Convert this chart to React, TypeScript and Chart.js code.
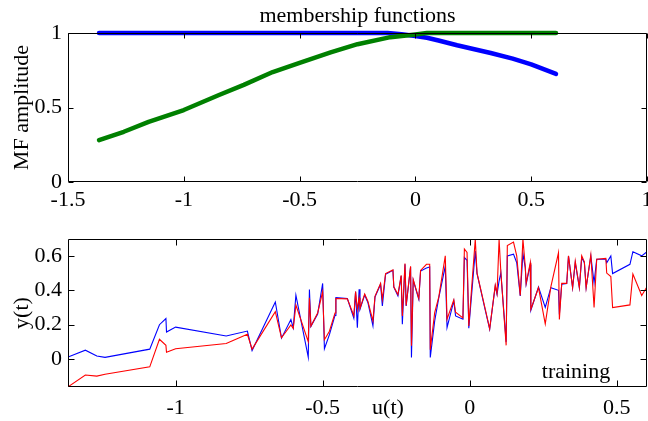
import React, { useEffect, useRef } from "react";
import { Chart, registerables } from "chart.js";
Chart.register(...registerables);

// ---- Top panel: membership functions ----
const mfTitle = "membership functions";
const mfYLabel = "MF amplitude";
const mf1U = [-1.366, -0.12, -0.06, 0, 0.05, 0.1, 0.18, 0.25, 0.325, 0.42, 0.5, 0.607];
const mf1Y = [1, 1, 0.992, 0.98, 0.968, 0.95, 0.918, 0.893, 0.866, 0.828, 0.79, 0.726];
const mf2U = [-1.366, -1.259, -1.152, -1.0, -0.848, -0.741, -0.616, -0.5, -0.366, -0.25, -0.108, 0, 0.05, 0.607];
const mf2Y = [0.281, 0.337, 0.404, 0.483, 0.584, 0.652, 0.738, 0.8, 0.87, 0.925, 0.972, 0.99, 1.0, 1.0];
const mfXTicks = [-1.5, -1, -0.5, 0, 0.5, 1];
const mfYTicks = [0, 0.5, 1];

// ---- Bottom panel: training ----
const trXLabel = "u(t)";
const trYLabel = "y(t)";
const trNote = "training";
const trU = [
  -1.366, -1.307, -1.268, -1.24, -1.088, -1.055, -1.033, -1.031, -1.0, -0.828,
  -0.756, -0.74, -0.661, -0.64, -0.608, -0.6, -0.591, -0.549, -0.545, -0.54,
  -0.517, -0.5, -0.494, -0.477, -0.458, -0.455, -0.416, -0.394, -0.388, -0.382,
  -0.376, -0.373, -0.357, -0.346, -0.329, -0.322, -0.303, -0.297, -0.286, -0.261,
  -0.258, -0.244, -0.233, -0.229, -0.22, -0.216, -0.201, -0.198, -0.192, -0.173,
  -0.167, -0.147, -0.136, -0.134, -0.119, -0.105, -0.083, -0.077, -0.054, -0.048,
  -0.023, -0.018, -0.009, -0.003, 0.019, 0.025, 0.053, 0.068, 0.087, 0.093,
  0.1, 0.106, 0.124, 0.128, 0.149, 0.16, 0.172, 0.181, 0.189, 0.192,
  0.206, 0.208, 0.234, 0.257, 0.276, 0.302, 0.305, 0.313, 0.33, 0.336,
  0.35, 0.359, 0.373, 0.381, 0.39, 0.396, 0.412, 0.423, 0.432, 0.463,
  0.466, 0.48, 0.486, 0.545, 0.555, 0.585, 0.603,
];
const trBlue = [
  0.012, 0.052, 0.018, 0.01, 0.058, 0.2, 0.236, 0.157, 0.186, 0.134,
  0.163, 0.05, 0.332, 0.122, 0.23, 0.182, 0.372, 0.012, 0.405, 0.19,
  0.262, 0.44, 0.06, 0.142, 0.254, 0.357, 0.352, 0.238, 0.392, 0.183,
  0.406, 0.29, 0.373, 0.328, 0.193, 0.361, 0.435, 0.309, 0.493, 0.516,
  0.419, 0.367, 0.483, 0.203, 0.551, 0.309, 0.535, 0.01, 0.458, 0.348,
  0.512, 0.53, 0.535, 0.01, 0.222, 0.357, 0.541, 0.183, 0.338, 0.251,
  0.232, 0.59, 0.574, 0.18, 0.628, 0.497, 0.284, 0.174, 0.425, 0.377,
  0.454, 0.502, 0.1, 0.6, 0.61, 0.56, 0.367, 0.613, 0.532, 0.435,
  0.55, 0.284, 0.419, 0.3, 0.415, 0.4, 0.26, 0.435, 0.439, 0.599,
  0.415, 0.56, 0.415, 0.59, 0.56, 0.415, 0.599, 0.444, 0.58, 0.58,
  0.56, 0.599, 0.497, 0.551, 0.624, 0.6, 0.624,
];
const trRed = [
  -0.161, -0.092, -0.099, -0.088, -0.045, 0.115, 0.08, 0.04, 0.06, 0.091,
  0.144, 0.058, 0.276, 0.124, 0.198, 0.178, 0.314, 0.102, 0.356, 0.192,
  0.268, 0.392, 0.113, 0.162, 0.268, 0.352, 0.35, 0.252, 0.392, 0.29,
  0.357, 0.295, 0.378, 0.335, 0.222, 0.365, 0.44, 0.348, 0.497, 0.518,
  0.42, 0.375, 0.487, 0.251, 0.556, 0.312, 0.54, 0.078, 0.462, 0.352,
  0.515, 0.551, 0.551, 0.055, 0.27, 0.362, 0.6, 0.232, 0.345, 0.272,
  0.24, 0.64, 0.62, 0.193, 0.697, 0.5, 0.29, 0.176, 0.43, 0.38,
  0.697, 0.505, 0.08, 0.66, 0.68, 0.6, 0.37, 0.697, 0.54, 0.44,
  0.56, 0.29, 0.415, 0.205, 0.42, 0.618, 0.23, 0.44, 0.44, 0.6,
  0.415, 0.57, 0.415, 0.6, 0.565, 0.415, 0.605, 0.3, 0.58, 0.585,
  0.5, 0.48, 0.3, 0.315, 0.495, 0.37, 0.421,
];
const trXTicks = [-1, -0.5, 0, 0.5];
const trYTicks = [0, 0.2, 0.4, 0.6];

const FAMILY = '"Liberation Serif", "Times New Roman", serif';
const FONT = { family: FAMILY, size: 22 };

const framePlugin = {
  id: "frame",
  afterDatasetsDraw(chart: any, _args: any, opts: any) {
    const { ctx, chartArea: a, scales } = chart;
    const len = opts.tick || 5;
    const l = Math.round(a.left) + 0.5;
    const r = Math.round(a.right) - 0.5;
    const t = Math.round(a.top) + 0.5;
    const b = Math.round(a.bottom) - 0.5;
    ctx.save();
    ctx.strokeStyle = "#000";
    ctx.lineWidth = 1;
    ctx.beginPath();
    ctx.rect(l, t, r - l, b - t);
    for (const tk of scales.x.ticks) {
      const px = Math.round(scales.x.getPixelForValue(tk.value)) + 0.5;
      ctx.moveTo(px, b); ctx.lineTo(px, b - len);
      ctx.moveTo(px, t); ctx.lineTo(px, t + len);
    }
    for (const tk of scales.y.ticks) {
      const py = Math.round(scales.y.getPixelForValue(tk.value)) + 0.5;
      ctx.moveTo(l, py); ctx.lineTo(l + len, py);
      ctx.moveTo(r, py); ctx.lineTo(r - len, py);
    }
    ctx.stroke();
    const texts = opts.texts || [];
    ctx.fillStyle = "#000";
    ctx.font = `${FONT.size}px ${FAMILY}`;
    ctx.textAlign = "center";
    ctx.textBaseline = "middle";
    for (const tx of texts) ctx.fillText(tx.text, tx.x, tx.y);
    ctx.restore();
  },
};

function axis(min: number, max: number, vals: number[], fitKey: "width" | "height", fitVal: number, padding: number, title?: any) {
  return {
    type: "linear",
    min,
    max,
    grid: { display: false, drawTicks: false },
    border: { display: false },
    afterBuildTicks: (s: any) => {
      s.ticks = vals.map((v) => ({ value: v }));
    },
    afterFit: (s: any) => {
      s[fitKey] = fitVal;
      s.paddingLeft = 0;
      s.paddingRight = 0;
      s.paddingTop = 0;
      s.paddingBottom = 0;
    },
    ticks: {
      padding,
      color: "#000",
      font: FONT,
      maxRotation: 0,
      autoSkip: false,
      callback: (v: any) => String(v),
    },
    title: title
      ? { display: true, text: title, color: "#000", font: FONT, padding: { top: 9, bottom: 0 } }
      : { display: false },
  };
}

export default function App() {
  const topRef = useRef<HTMLCanvasElement>(null);
  const botRef = useRef<HTMLCanvasElement>(null);

  useEffect(() => {
    const top = new Chart(topRef.current as HTMLCanvasElement, {
      type: "line",
      data: {
        datasets: [
          {
            data: mf1U.map((u, i) => ({ x: u, y: mf1Y[i] })),
            borderColor: "#0000ff",
            borderWidth: 4.5,
            pointRadius: 0,
            tension: 0,
            fill: false,
            clip: false,
            order: 2,
            borderCapStyle: "round",
            borderJoinStyle: "round",
          },
          {
            data: mf2U.map((u, i) => ({ x: u, y: mf2Y[i] })),
            borderColor: "#008000",
            borderWidth: 4.5,
            pointRadius: 0,
            tension: 0,
            fill: false,
            clip: false,
            order: 1,
            borderCapStyle: "round",
            borderJoinStyle: "round",
          },
        ],
      },
      options: {
        responsive: false,
        animation: false,
        layout: { padding: { top: 33, right: 1, left: 0, bottom: 0 } },
        plugins: {
          legend: { display: false },
          tooltip: { enabled: false },
          frame: { tick: 5, texts: [{ text: mfTitle, x: 357.5, y: 16 }] },
        } as any,
        scales: {
          x: axis(-1.5, 1, mfXTicks, "height", 33, 5),
          y: axis(0, 1, mfYTicks, "width", 68, 6, mfYLabel),
        } as any,
      },
      plugins: [framePlugin],
    } as any);

    const bot = new Chart(botRef.current as HTMLCanvasElement, {
      type: "line",
      data: {
        datasets: [
          {
            data: trU.map((u, i) => ({ x: u, y: trBlue[i] })),
            borderColor: "#0000ff",
            borderWidth: 1.1,
            pointRadius: 0,
            tension: 0,
            fill: false,
            order: 2,
          },
          {
            data: trU.map((u, i) => ({ x: u, y: trRed[i] })),
            borderColor: "#ff0000",
            borderWidth: 1.1,
            pointRadius: 0,
            tension: 0,
            fill: false,
            order: 1,
          },
        ],
      },
      options: {
        responsive: false,
        animation: false,
        layout: { padding: { top: 24, right: 1, left: 0, bottom: 0 } },
        plugins: {
          legend: { display: false },
          tooltip: { enabled: false },
          frame: {
            tick: 6,
            texts: [
              { text: trXLabel, x: 388, y: 193 },
              { text: trNote, x: 576, y: 157 },
            ],
          },
        } as any,
        scales: {
          x: axis(-1.366, 0.603, trXTicks, "height", 34, 8),
          y: axis(-0.162, 0.698, trYTicks, "width", 68, 6, trYLabel),
        } as any,
      },
      plugins: [framePlugin],
    } as any);

    return () => {
      top.destroy();
      bot.destroy();
    };
  }, []);

  return (
    <div style={{ position: "fixed", left: 0, top: 0, width: 648, height: 421, background: "#fff" }}>
      <canvas ref={topRef} width={648} height={215} style={{ position: "absolute", left: 0, top: 0 }} />
      <canvas ref={botRef} width={648} height={206} style={{ position: "absolute", left: 0, top: 215 }} />
    </div>
  );
}
